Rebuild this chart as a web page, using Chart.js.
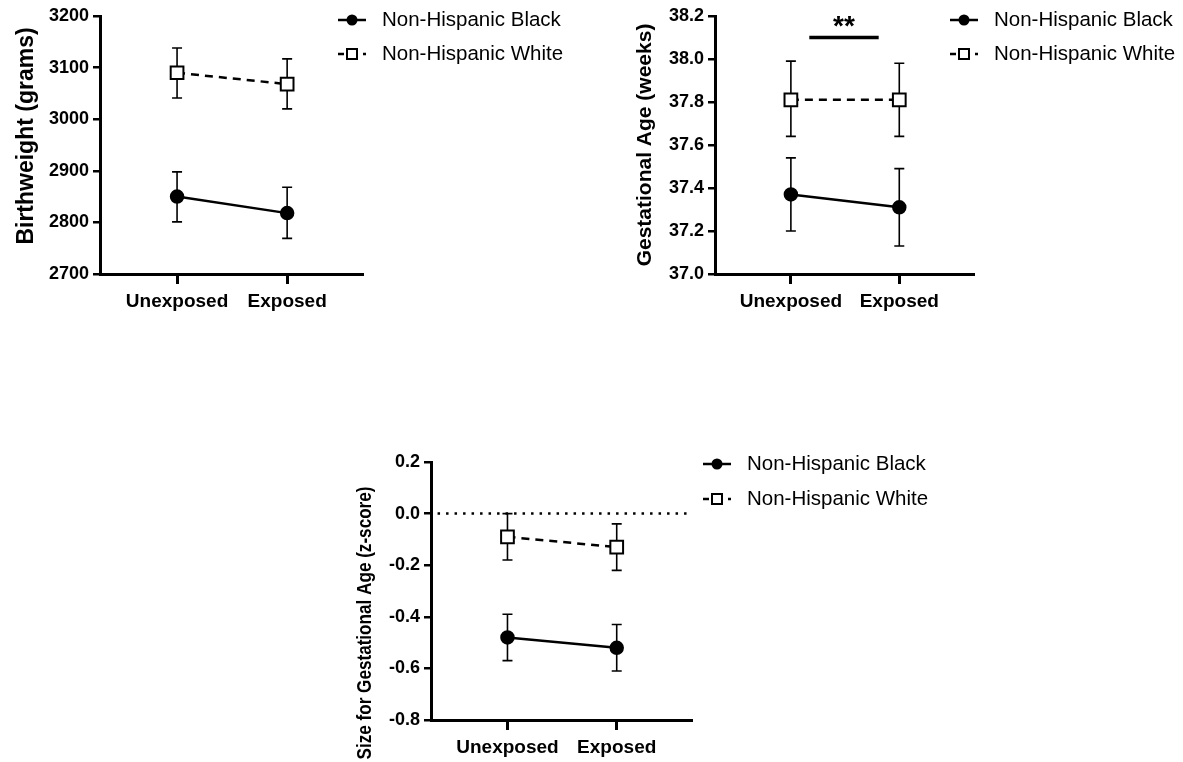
<!DOCTYPE html>
<html>
<head>
<meta charset="utf-8">
<script src="https://cdn.jsdelivr.net/npm/chart.js@4.4.1/dist/chart.umd.min.js"></script>
<style>
  html, body { margin: 0; padding: 0; background: #fff; }
  body { width: 1183px; height: 762px; position: relative; overflow: hidden; }
  canvas { position: absolute; }
</style>
</head>
<body>
<canvas id="bwChart"></canvas>
<canvas id="gaChart"></canvas>
<canvas id="sgaChart"></canvas>
<script>
const categories = ['Unexposed', 'Exposed'];
const groupNames = ['Non-Hispanic Black', 'Non-Hispanic White'];
const xPositions = [1, 2];

// birthweight (grams), mean with lower / upper error bar ends
const bwBlack = [2850, 2818];
const bwBlackLow = [2801, 2769];
const bwBlackHigh = [2898, 2868];
const bwWhite = [3090, 3068];
const bwWhiteLow = [3041, 3020];
const bwWhiteHigh = [3138, 3117];
const bwTicks = [2700, 2800, 2900, 3000, 3100, 3200];

// gestational age (weeks)
const gaBlack = [37.37, 37.31];
const gaBlackLow = [37.20, 37.13];
const gaBlackHigh = [37.54, 37.49];
const gaWhite = [37.81, 37.81];
const gaWhiteLow = [37.64, 37.64];
const gaWhiteHigh = [37.99, 37.98];
const gaTicks = [37.0, 37.2, 37.4, 37.6, 37.8, 38.0, 38.2];

// size for gestational age (z-score)
const sgaBlack = [-0.48, -0.52];
const sgaBlackLow = [-0.57, -0.61];
const sgaBlackHigh = [-0.39, -0.43];
const sgaWhite = [-0.09, -0.13];
const sgaWhiteLow = [-0.18, -0.22];
const sgaWhiteHigh = [0.00, -0.04];
const sgaTicks = [-0.8, -0.6, -0.4, -0.2, 0.0, 0.2];

const FONT = '"Liberation Sans", Arial, sans-serif';
Chart.defaults.font.family = FONT;
Chart.defaults.color = '#000';

const X_MIN = 0.3, X_MAX = 2.68;

const errorBars = {
  id: 'errorBars',
  beforeDatasetsDraw(chart) {
    const ctx = chart.ctx, xs = chart.scales.x, ys = chart.scales.y;
    chart.data.datasets.forEach(ds => {
      if (!ds.low) return;
      ctx.save();
      ctx.strokeStyle = '#000';
      ctx.lineWidth = 1.6;
      ds.data.forEach((p, i) => {
        const px = xs.getPixelForValue(p.x);
        const lo = ys.getPixelForValue(ds.low[i]);
        const hi = ys.getPixelForValue(ds.high[i]);
        ctx.beginPath();
        ctx.moveTo(px, lo); ctx.lineTo(px, hi);
        ctx.moveTo(px - 5, lo); ctx.lineTo(px + 5, lo);
        ctx.moveTo(px - 5, hi); ctx.lineTo(px + 5, hi);
        ctx.stroke();
      });
      ctx.restore();
    });
  }
};

const sideLegend = {
  id: 'sideLegend',
  afterDraw(chart, args, o) {
    const ctx = chart.ctx;
    chart.data.datasets.filter(ds => !ds.isRef).forEach((ds, i) => {
      const y = o.y + i * o.gap, x0 = o.x, x1 = o.x + 28, xm = o.x + 14;
      ctx.save();
      ctx.strokeStyle = '#000';
      ctx.lineWidth = 2.5;
      ctx.beginPath();
      if (ds.borderDash && ds.borderDash.length) {
        ctx.moveTo(x0, y); ctx.lineTo(x0 + 6, y);
        ctx.moveTo(x1 - 3, y); ctx.lineTo(x1, y);
        ctx.stroke();
        ctx.fillStyle = '#fff';
        ctx.lineWidth = 2;
        ctx.fillRect(xm - 5, y - 5, 10, 10);
        ctx.strokeRect(xm - 5, y - 5, 10, 10);
      } else {
        ctx.moveTo(x0, y); ctx.lineTo(x1, y);
        ctx.stroke();
        ctx.fillStyle = '#000';
        ctx.beginPath();
        ctx.arc(xm, y, 5.5, 0, Math.PI * 2);
        ctx.fill();
      }
      ctx.fillStyle = '#000';
      ctx.font = '20.5px ' + FONT;
      ctx.textAlign = 'left';
      ctx.textBaseline = 'middle';
      ctx.fillText(ds.label, x0 + 44, y);
      ctx.restore();
    });
  }
};

const yTitle = {
  id: 'yTitle',
  afterDraw(chart, args, o) {
    const ctx = chart.ctx;
    ctx.save();
    ctx.translate(o.x, o.y);
    ctx.rotate(-Math.PI / 2);
    ctx.fillStyle = '#000';
    ctx.font = 'bold ' + o.size + 'px ' + FONT;
    ctx.textAlign = 'center';
    ctx.textBaseline = 'middle';
    if (o.maxLen) ctx.fillText(o.text, 0, 0, o.maxLen);
    else ctx.fillText(o.text, 0, 0);
    ctx.restore();
  }
};

const sigBar = {
  id: 'sigBar',
  afterDatasetsDraw(chart, args, o) {
    if (!o.label) return;
    const ctx = chart.ctx, xs = chart.scales.x, ys = chart.scales.y;
    const xa = xs.getPixelForValue(o.from), xb = xs.getPixelForValue(o.to);
    const y = ys.getPixelForValue(o.y);
    ctx.save();
    ctx.strokeStyle = '#000';
    ctx.lineWidth = 3.5;
    ctx.beginPath();
    ctx.moveTo(xa, y); ctx.lineTo(xb, y);
    ctx.stroke();
    ctx.fillStyle = '#000';
    ctx.font = 'bold 28px ' + FONT;
    ctx.textAlign = 'center';
    ctx.textBaseline = 'alphabetic';
    ctx.fillText(o.label, (xa + xb) / 2, y - 3);
    ctx.restore();
  }
};

function points(values) {
  return values.map((v, i) => ({ x: xPositions[i], y: v }));
}

function makeChart(id, box, plot, cfg) {
  const cv = document.getElementById(id);
  cv.style.left = box.x + 'px';
  cv.style.top = box.y + 'px';
  cv.style.width = box.w + 'px';
  cv.style.height = box.h + 'px';
  cv.width = box.w;
  cv.height = box.h;

  const datasets = [
    {
      label: groupNames[0], data: points(cfg.black), low: cfg.blackLow, high: cfg.blackHigh,
      borderColor: '#000', borderWidth: 2.5, borderDash: [],
      pointStyle: 'circle', pointRadius: 6, pointBackgroundColor: '#000', pointBorderColor: '#000'
    },
    {
      label: groupNames[1], data: points(cfg.white), low: cfg.whiteLow, high: cfg.whiteHigh,
      borderColor: '#000', borderWidth: 2.5, borderDash: [8, 6],
      pointStyle: 'rect', pointRadius: 9, pointBorderWidth: 2,
      pointBackgroundColor: '#fff', pointBorderColor: '#000'
    }
  ];
  if (cfg.zeroLine) {
    datasets.push({
      isRef: true, data: [{ x: X_MIN + 0.06, y: 0 }, { x: X_MAX, y: 0 }],
      borderColor: '#000', borderWidth: 2.5, borderDash: [2.5, 6], pointRadius: 0
    });
  }

  const lb = box.x, tb = box.y;
  return new Chart(cv, {
    type: 'line',
    data: { datasets },
    options: {
      responsive: false,
      animation: false,
      devicePixelRatio: 1,
      layout: { padding: { left: 0, top: plot.top - tb, right: lb + box.w - plot.right, bottom: 0 } },
      plugins: {
        legend: { display: false },
        tooltip: { enabled: false },
        sideLegend: { x: cfg.legend.x - lb, y: cfg.legend.y - tb, gap: cfg.legend.gap },
        yTitle: {
          text: cfg.title, size: cfg.titleSize, maxLen: cfg.titleLen || 0,
          x: cfg.titlePos.x - lb, y: cfg.titlePos.y - tb
        },
        sigBar: cfg.sig || { label: '' }
      },
      scales: {
        x: {
          type: 'linear', min: X_MIN, max: X_MAX,
          afterBuildTicks: s => { s.ticks = xPositions.map(v => ({ value: v })); },
          afterFit: s => { s.height = tb + box.h - plot.bottom; },
          ticks: {
            callback: (v, i) => categories[i],
            font: { size: 19, weight: 'bold' }, padding: 6,
            maxRotation: 0, autoSkip: false
          },
          grid: { drawOnChartArea: false, drawTicks: true, tickLength: 10, lineWidth: 3, color: '#000' },
          border: { display: true, color: '#000', width: 3 }
        },
        y: {
          type: 'linear', min: cfg.ticks[0], max: cfg.ticks[cfg.ticks.length - 1],
          afterBuildTicks: s => { s.ticks = cfg.ticks.map(v => ({ value: v })); },
          afterFit: s => { s.width = plot.left - lb; },
          ticks: {
            callback: v => v.toFixed(cfg.decimals),
            font: { size: 18, weight: 'bold' }, padding: 4
          },
          grid: { drawOnChartArea: false, drawTicks: true, tickLength: 7, lineWidth: 2.5, color: '#000' },
          border: { display: true, color: '#000', width: 3 }
        }
      }
    },
    plugins: [errorBars, sigBar, sideLegend, yTitle]
  });
}

makeChart('bwChart',
  { x: 0, y: 0, w: 590, h: 330 },
  { left: 100, top: 16, right: 362, bottom: 274 },
  {
    black: bwBlack, blackLow: bwBlackLow, blackHigh: bwBlackHigh,
    white: bwWhite, whiteLow: bwWhiteLow, whiteHigh: bwWhiteHigh,
    ticks: bwTicks, decimals: 0, title: 'Birthweight (grams)', titleSize: 23,
    titlePos: { x: 27, y: 136 },
    legend: { x: 338, y: 20, gap: 34 }
  });

makeChart('gaChart',
  { x: 590, y: 0, w: 593, h: 330 },
  { left: 715, top: 16, right: 973, bottom: 274 },
  {
    black: gaBlack, blackLow: gaBlackLow, blackHigh: gaBlackHigh,
    white: gaWhite, whiteLow: gaWhiteLow, whiteHigh: gaWhiteHigh,
    ticks: gaTicks, decimals: 1, title: 'Gestational Age (weeks)', titleSize: 21,
    titlePos: { x: 645, y: 145 },
    legend: { x: 950, y: 20, gap: 34 },
    sig: { label: '**', from: 1.17, to: 1.81, y: 38.1 }
  });

makeChart('sgaChart',
  { x: 300, y: 430, w: 700, h: 332 },
  { left: 431, top: 462, right: 691, bottom: 720 },
  {
    black: sgaBlack, blackLow: sgaBlackLow, blackHigh: sgaBlackHigh,
    white: sgaWhite, whiteLow: sgaWhiteLow, whiteHigh: sgaWhiteHigh,
    ticks: sgaTicks, decimals: 1, title: 'Size for Gestational Age (z-score)', titleSize: 21, titleLen: 273,
    titlePos: { x: 365, y: 623 },
    legend: { x: 703, y: 464, gap: 35 },
    zeroLine: true
  });
</script>
</body>
</html>
